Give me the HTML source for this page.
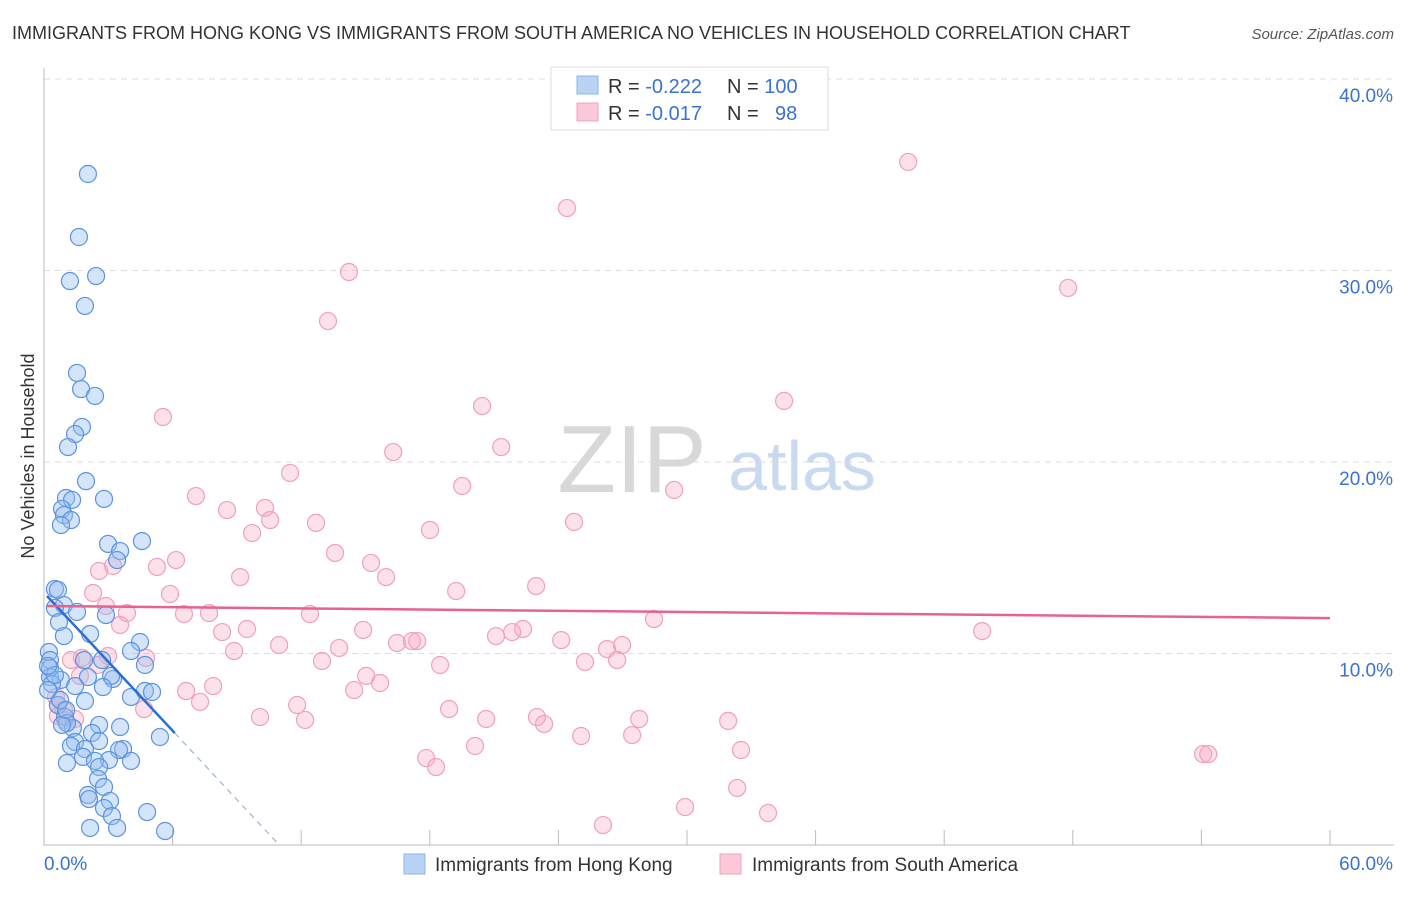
<!DOCTYPE html>
<html><head><meta charset="utf-8">
<style>
body{margin:0;background:#fff;font-family:"Liberation Sans",sans-serif;}
svg text{font-family:"Liberation Sans",sans-serif;}
</style></head>
<body>
<svg id="chart" width="1406" height="892" xmlns="http://www.w3.org/2000/svg">
<text x="12" y="39" font-size="18" fill="#333">IMMIGRANTS FROM HONG KONG VS IMMIGRANTS FROM SOUTH AMERICA NO VEHICLES IN HOUSEHOLD CORRELATION CHART</text>
<text x="1394" y="39" font-size="15" fill="#555" text-anchor="end" font-style="italic">Source: ZipAtlas.com</text>
<text transform="translate(34,456) rotate(-90)" font-size="18" fill="#333" text-anchor="middle">No Vehicles in Household</text>
<g>
<text x="632" y="492" font-size="96" fill="#d8d8d8" text-anchor="middle" font-family="Liberation Serif">ZIP</text>
<text x="802" y="490" font-size="70" fill="#c9daf0" text-anchor="middle">atlas</text>
</g>
<g id="grid"></g>
<g id="pts"></g>
<g id="lines"></g>
<g>
<rect x="551" y="67" width="277" height="63" fill="#fff" stroke="#ddd"/>
<rect x="577" y="76" width="21" height="18" fill="#b9d3f5" stroke="#8fb5ea"/>
<rect x="577" y="103" width="21" height="18" fill="#fbc9d8" stroke="#f2a3bb"/>
<text x="608" y="93" font-size="20" fill="#333">R = <tspan fill="#3a72d0">-0.222</tspan></text>
<text x="727" y="93" font-size="20" fill="#333">N = <tspan fill="#3a72d0">100</tspan></text>
<text x="608" y="120" font-size="20" fill="#333">R = <tspan fill="#3a72d0">-0.017</tspan></text>
<text x="727" y="120" font-size="20" fill="#333">N = <tspan fill="#3a72d0" x="775">98</tspan></text>
</g>
<g>
<rect x="404" y="854" width="21" height="20" fill="#b9d3f5" stroke="#8fb5ea"/>
<text x="435" y="871" font-size="19" fill="#333">Immigrants from Hong Kong</text>
<rect x="720" y="854" width="21" height="20" fill="#fbc9d8" stroke="#f2a3bb"/>
<text x="752" y="871" font-size="19" fill="#333">Immigrants from South America</text>
</g>
</svg>
<script>
const blueX=[2.05,1.63,1.21,2.43,1.91,1.54,1.73,2.38,1.77,1.45,1.12,1.96,1.03,1.31,2.8,0.84,0.93,1.26,0.79,2.99,4.57,3.55,3.41,0.51,0.65,0.93,0.51,2.89,1.54,0.7,2.15,0.93,4.48,4.06,0.23,0.28,2.71,4.71,0.28,1.87,2.05,0.28,0.79,3.22,3.13,1.45,2.75,4.71,5.04,4.06,1.91,0.65,0.98,2.57,3.55,1.35,1.07,2.24,5.41,1.45,2.57,1.26,1.91,3.69,3.5,1.82,3.03,1.07,2.38,4.06,2.57,2.52,2.8,2.05,2.1,3.08,2.8,3.17,4.81,2.15,3.41,5.65,0.84,0.75,1.03,0.37,0.51,0.19,0.19];
const blueY=[35.04,31.75,29.45,29.71,28.15,24.65,23.81,23.45,21.83,21.46,20.78,19.0,18.12,18.02,18.07,17.55,17.23,16.97,16.71,15.72,15.87,15.35,14.88,13.37,13.32,12.53,12.38,12.01,12.17,11.64,11.02,10.91,10.6,10.13,10.08,9.66,9.66,9.4,9.24,9.66,8.77,8.77,8.62,8.67,8.83,8.3,8.25,8.04,7.99,7.73,7.52,7.31,6.68,6.27,6.16,6.11,6.37,5.85,5.64,5.38,5.43,5.17,5.01,5.01,4.96,4.6,4.44,4.28,4.39,4.39,4.07,3.45,3.03,2.61,2.4,2.3,1.93,1.51,1.72,0.89,0.89,0.73,6.27,7.57,7.05,8.41,8.88,9.35,8.09];
const pinkX=[40.32,24.4,14.23,47.78,13.25,5.55,20.44,34.53,16.29,21.33,11.48,19.51,29.4,7.09,8.54,10.31,10.55,12.69,18.01,24.73,9.71,13.58,6.16,15.26,3.22,5.27,2.57,9.15,15.96,22.96,19.23,5.88,2.29,2.89,3.87,6.53,7.7,12.41,28.46,3.55,8.31,9.47,14.89,22.35,21.09,21.84,43.77,10.97,8.87,13.77,17.41,16.47,17.17,24.13,26.27,26.97,2.99,4.76,1.26,1.77,12.97,25.24,26.74,18.48,2.52,15.03,15.68,14.47,6.63,7.89,7.28,11.81,18.9,10.08,12.18,20.63,23.0,27.77,31.92,23.33,4.67,1.68,0.56,0.65,0.93,0.65,1.45,0.98,20.11,25.06,27.44,32.52,17.83,18.29,54.08,54.32,32.34,29.91,33.78,26.08];
const pinkY=[35.67,33.26,29.92,29.09,27.36,22.35,22.92,23.19,20.52,20.78,19.43,18.75,18.54,18.22,17.49,17.6,16.97,16.82,16.45,16.87,16.29,15.25,14.88,14.73,14.57,14.52,14.31,13.99,13.99,13.52,13.26,13.11,13.16,12.48,12.11,12.06,12.11,12.06,11.8,11.49,11.12,11.28,11.23,11.28,10.91,11.12,11.17,10.44,10.13,10.29,10.65,10.55,10.65,10.7,10.23,10.44,9.87,9.77,9.66,9.77,9.61,9.56,9.66,9.4,9.4,8.83,8.46,8.09,8.04,8.3,7.47,7.31,7.1,6.68,6.53,6.58,6.68,6.58,6.48,6.32,7.1,8.83,7.73,7.31,7.05,6.74,6.58,6.53,5.17,5.69,5.74,4.96,4.54,4.07,4.75,4.75,2.98,1.98,1.67,1.04];
const yTicks=[10,20,30,40];
const yTickLabels=["10.0%","20.0%","30.0%","40.0%"];
const xTicks=[0,6,12,18,24,30,36,42,48,54,60];
const blueTrend=[13.17,-1.2];
const pinkTrend=[12.48,-0.0105];

const NS="http://www.w3.org/2000/svg";
const X0=44,X1=1330,Y0=845,PY=19.15;
const sx=v=>X0+(X1-X0)*v/60;
const sy=v=>Y0-v*PY;
function mk(tag,attrs,parent){const e=document.createElementNS(NS,tag);for(const k in attrs)e.setAttribute(k,attrs[k]);parent.appendChild(e);return e;}
const grid=document.getElementById('grid');
yTicks.forEach((t,i)=>{
  const l=mk('line',{x1:X0,x2:1394,y1:sy(t),y2:sy(t),stroke:'#ddd','stroke-dasharray':'6,5'},grid);
  
  
  const tx=mk('text',{x:1393,y:sy(t)+23,'font-size':19,fill:'#3a72d0','text-anchor':'end'},grid);
  tx.textContent=yTickLabels[i];
  
  
});
const ax=mk('path',{d:`M${X0},68 V${Y0} H1394`,stroke:'#bbb',fill:'none'},grid);


xTicks.forEach(t=>{
  const l=mk('line',{x1:sx(t),x2:sx(t),y1:Y0,y2:Y0-15,stroke:'#bbb'},grid);
  
  
});
const xl0=mk('text',{x:44,y:870,'font-size':19,fill:'#3a72d0'},grid);xl0.textContent='0.0%';


const xl1=mk('text',{x:1393,y:870,'font-size':19,fill:'#3a72d0','text-anchor':'end'},grid);xl1.textContent='60.0%';



const pts=document.getElementById('pts');
pinkX.forEach((x,i)=>{
  const c=mk('circle',{cx:sx(x),cy:sy(pinkY[i]),r:8.5,fill:'rgba(248,170,195,0.35)',stroke:'#f0a0ba','stroke-width':1.2},pts);
  
  
});
blueX.forEach((x,i)=>{
  const c=mk('circle',{cx:sx(x),cy:sy(blueY[i]),r:8.5,fill:'rgba(150,190,240,0.4)',stroke:'#5b93e0','stroke-width':1.2},pts);
  
  
});
const lines=document.getElementById('lines');
const bf=x=>blueTrend[0]+blueTrend[1]*x, pf=x=>pinkTrend[0]+pinkTrend[1]*x;
const bl=mk('line',{x1:sx(0.14),y1:sy(bf(0.14)),x2:sx(6.1),y2:sy(bf(6.1)),stroke:'#2b6fd6','stroke-width':2.5},lines);


const xz=-blueTrend[0]/blueTrend[1];
const bd=mk('line',{x1:sx(6.1),y1:sy(bf(6.1)),x2:sx(xz),y2:sy(0),stroke:'#9ab4d8','stroke-width':1.2,'stroke-dasharray':'6,5'},lines);


const pl=mk('line',{x1:sx(0.14),y1:sy(pf(0.14)),x2:sx(60),y2:sy(pf(60)),stroke:'#e8628e','stroke-width':2.5},lines);


</script>
</body></html>
